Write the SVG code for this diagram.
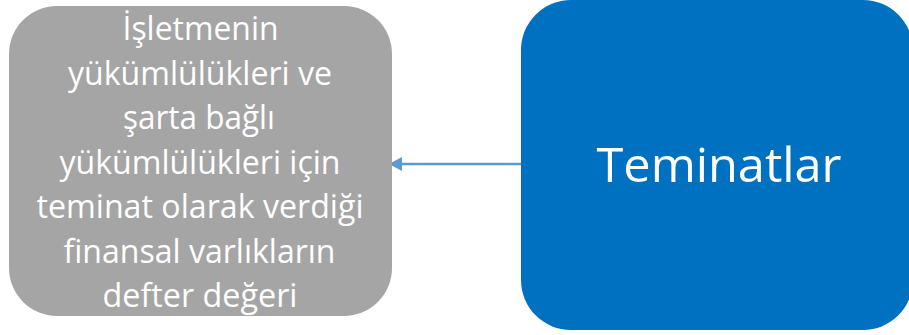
<svg xmlns="http://www.w3.org/2000/svg" width="909" height="335" viewBox="0 0 909 335">
  <defs>
    <style>
      .lbl { font-family: "Open Sans", "Noto Sans", "DejaVu Sans", sans-serif; fill: #FFFFFF; text-anchor: middle; }
      .small { font-size: 32px; }
      .big { font-size: 48px; }
      .conn { stroke: #5B9BD5; stroke-width: 2.5; fill: none; }
    </style>
    <marker id="arrow" markerUnits="userSpaceOnUse" markerWidth="14" markerHeight="16" refX="13" refY="7" orient="auto">
      <path d="M0,0 L13,7 L0,14 Z" fill="#5B9BD5"/>
    </marker>
  </defs>
  <rect x="0" y="0" width="909" height="335" fill="#FFFFFF"/>
  <g id="connectors">
    <line class="conn" x1="522" y1="164" x2="389" y2="164" marker-end="url(#arrow)"/>
  </g>
  <g id="node-left">
    <rect x="9" y="6" width="383" height="310" rx="48" ry="48" fill="#A5A5A5"/>
    <text class="lbl small" x="200.5" y="40" textLength="156" lengthAdjust="spacingAndGlyphs">İşletmenin</text>
    <text class="lbl small" x="200" y="84.5" textLength="264" lengthAdjust="spacingAndGlyphs">yükümlülükleri ve</text>
    <text class="lbl small" x="199" y="129" textLength="152" lengthAdjust="spacingAndGlyphs">şarta bağlı</text>
    <text class="lbl small" x="200" y="173.5" textLength="281" lengthAdjust="spacingAndGlyphs">yükümlülükleri için</text>
    <text class="lbl small" x="200" y="218" textLength="327" lengthAdjust="spacingAndGlyphs">teminat olarak verdiği</text>
    <text class="lbl small" x="199.5" y="262.5" textLength="272" lengthAdjust="spacingAndGlyphs">finansal varlıkların</text>
    <text class="lbl small" x="200" y="307" textLength="195" lengthAdjust="spacingAndGlyphs">defter değeri</text>
  </g>
  <g id="node-right">
    <rect x="521" y="0" width="392" height="330" rx="50" ry="50" fill="#0070C0"/>
    <text class="lbl big" x="719" y="182" textLength="245" lengthAdjust="spacingAndGlyphs">Teminatlar</text>
  </g>
</svg>
